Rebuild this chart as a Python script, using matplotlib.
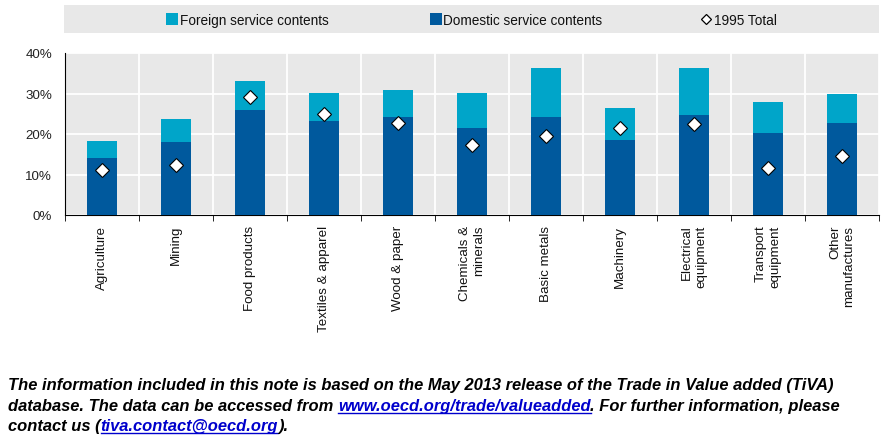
import matplotlib.pyplot as plt
from matplotlib.patches import Rectangle
from matplotlib.lines import Line2D
import numpy as np

plt.rcParams['font.family'] = ['Liberation Sans', 'DejaVu Sans']

sectors = ["Agriculture", "Mining", "Food products", "Textiles & apparel",
           "Wood & paper", "Chemicals &\nminerals", "Basic metals", "Machinery",
           "Electrical\nequipment", "Transport\nequipment", "Other\nmanufactures"]
domestic = [14.1, 18.1, 25.9, 23.3, 24.2, 21.6, 24.2, 18.5, 24.7, 20.2, 22.7]
foreign = [4.2, 5.6, 7.1, 6.8, 6.7, 8.6, 12.2, 7.9, 11.7, 7.8, 7.3]
total_1995 = [11.2, 12.3, 29.2, 25.0, 22.8, 17.2, 19.5, 21.5, 22.5, 11.7, 14.5]
yticks = [0, 10, 20, 30, 40]
legend_labels = ["Foreign service contents", "Domestic service contents", "1995 Total"]

c_foreign = "#00A5C9"
c_domestic = "#00599D"
bg = "#E8E8E8"

W, H = 883, 439
fig = plt.figure(figsize=(W / 100, H / 100), dpi=100)
ax = fig.add_axes([65 / W, 1 - 216 / H, 814 / W, 162 / H])
ax.set_facecolor(bg)

x = np.arange(len(sectors))
ax.bar(x, domestic, width=0.41, color=c_domestic, zorder=3)
ax.bar(x, foreign, width=0.41, bottom=domestic, color=c_foreign, zorder=3)
ax.plot(x, total_1995, linestyle="", marker="D", markersize=7,
        markerfacecolor="white", markeredgecolor="black", markeredgewidth=0.8, zorder=4)

ax.set_xlim(-0.5, len(sectors) - 0.5)
ax.set_ylim(0, 40)
ax.set_yticks(yticks)
ax.set_yticklabels([f"{v}%" for v in yticks], fontsize=9.6, color="#222222")
ax.tick_params(axis="y", length=0, pad=9.4)
ax.set_xticks(x)
ax.set_xticklabels(sectors, rotation=90, fontsize=9.6, va="top", ha="center",
                   multialignment="right", color="#111111")
ax.tick_params(axis="x", which="major", length=0, pad=7)
ax.set_xticks(np.arange(len(sectors) + 1) - 0.5, minor=True)
ax.tick_params(axis="x", which="minor", length=4, direction="out", color="black")
ax.grid(True, axis="y", color="white", linewidth=1.3, zorder=1)
ax.grid(True, axis="x", which="minor", color="white", linewidth=1.3, zorder=1)
for s in ["top", "right"]:
    ax.spines[s].set_visible(False)
ax.spines["left"].set_color("black")
ax.spines["bottom"].set_color("black")
ax.spines["left"].set_linewidth(0.8)
ax.spines["bottom"].set_linewidth(0.8)

# legend band drawn by hand
fig.patches.append(Rectangle((64 / W, 1 - 34 / H), 815 / W, 28 / H,
                             transform=fig.transFigure, facecolor=bg,
                             edgecolor="none", zorder=0))
ly = 1 - 19.5 / H
for sx, col in [(166, c_foreign), (430, c_domestic)]:
    fig.patches.append(Rectangle((sx / W, 1 - 25.5 / H), 12 / W, 12 / H,
                                 transform=fig.transFigure, facecolor=col,
                                 edgecolor="none", zorder=1))
fig.add_artist(Line2D([706 / W], [ly], linestyle="", marker="D", markersize=5,
                      markerfacecolor="white", markeredgecolor="black",
                      markeredgewidth=0.9))
for tx, lab in zip([179.5, 443, 714], legend_labels):
    fig.text(tx / W, ly, lab, va="center_baseline", ha="left", fontsize=9.8,
             color="#111111")

# footnote with links
renderer = fig.canvas.get_renderer()
note_font = dict(fontweight="bold", fontstyle="italic", fontsize=10.5)
line1 = "The information included in this note is based on the May 2013 release of the Trade in Value added (TiVA)"
t = fig.text(8 / W, 1 - 386 / H, line1, va="center", ha="left", **note_font)
wpx = t.get_window_extent(renderer).width
note_font["fontsize"] = 10.5 * 830 / wpx
t.set_fontsize(note_font["fontsize"])

link_color = "#0000CC"
lines = [
    [("database. The data can be accessed from ", False),
     ("www.oecd.org/trade/valueadded", True),
     (". For further information, please", False)],
    [("contact us (", False), ("tiva.contact@oecd.org", True), (").", False)],
]
for ypx, parts in zip([406.5, 426.5], lines):
    xpx = 8
    for txt, is_link in parts:
        tt = fig.text(xpx / W, 1 - ypx / H, txt, va="center", ha="left",
                      color=link_color if is_link else "black", **note_font)
        bb = tt.get_window_extent(renderer)
        if is_link:
            fig.add_artist(Line2D([bb.x0 / W, bb.x1 / W],
                                  [1 - (ypx + 7) / H, 1 - (ypx + 7) / H],
                                  color=link_color, linewidth=1.0))
        xpx += bb.width

fig.savefig("out.png", dpi=100)
